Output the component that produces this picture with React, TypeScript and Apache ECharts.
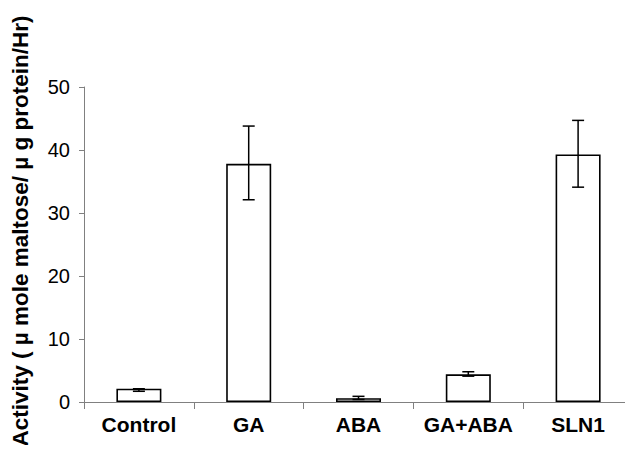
import React, { useEffect, useRef } from "react";
import * as echarts from "echarts";

const categories = ["Control", "GA", "ABA", "GA+ABA", "SLN1"];
const activity = [2.1, 37.8, 0.6, 4.4, 39.3];
const errLow = [1.7, 32.1, 0.4, 4.1, 34.1];
const errHigh = [2.1, 43.8, 0.9, 4.8, 44.7];
const yTicks = [0, 10, 20, 30, 40, 50];
const yTitle = "Activity ( \u00b5 mole maltose/ \u00b5 g protein/Hr)";

export default function App() {
  const ref = useRef<HTMLDivElement>(null);
  useEffect(() => {
    if (!ref.current) return;
    const chart = echarts.init(ref.current, undefined, { renderer: "svg" });
    const errData = categories.map((_, i) => [i, errLow[i], errHigh[i]]);
    chart.setOption({
      animation: false,
      backgroundColor: "#ffffff",
      grid: { left: 84, right: 0, top: 87, bottom: 51, containLabel: false },
      xAxis: {
        type: "category",
        data: categories,
        boundaryGap: true,
        axisLine: { lineStyle: { color: "#808080", width: 1 } },
        axisTick: { show: true, length: 7, interval: 0, alignWithLabel: false, lineStyle: { color: "#808080" } },
        axisLabel: {
          interval: 0,
          hideOverlap: false,
          color: "#000",
          fontFamily: "Liberation Sans, Arial, sans-serif",
          fontWeight: "bold",
          fontSize: 21,
          margin: 12,
        },
        splitLine: { show: false },
      },
      yAxis: {
        type: "value",
        min: yTicks[0],
        max: yTicks[yTicks.length - 1],
        interval: 10,
        axisLine: { show: true, lineStyle: { color: "#808080", width: 1 } },
        axisTick: { show: true, length: 5, lineStyle: { color: "#808080" } },
        axisLabel: {
          color: "#000",
          fontFamily: "Liberation Sans, Arial, sans-serif",
          fontSize: 20,
          margin: 14,
        },
        splitLine: { show: false },
      },
      graphic: [
        {
          type: "text",
          x: 20,
          y: 231,
          rotation: Math.PI / 2,
          style: {
            text: yTitle,
            fill: "#000",
            font: "bold 22.5px 'Liberation Sans', Arial, sans-serif",
            textAlign: "center",
            textVerticalAlign: "middle",
          },
        },
      ],
      series: [
        {
          type: "bar",
          data: activity,
          barWidth: "41%",
          itemStyle: { color: "#ffffff", borderColor: "#000000", borderWidth: 1.6 },
        },
        {
          type: "custom",
          data: errData,
          z: 10,
          renderItem: (params: any, api: any) => {
            const x = api.value(0);
            const lo = api.coord([x, api.value(1)]);
            const hi = api.coord([x, api.value(2)]);
            const cx = lo[0];
            const hw = 6;
            const style = { stroke: "#000", lineWidth: 1.5 };
            return {
              type: "group",
              children: [
                { type: "line", shape: { x1: cx, y1: lo[1], x2: cx, y2: hi[1] }, style },
                { type: "line", shape: { x1: cx - hw, y1: lo[1], x2: cx + hw, y2: lo[1] }, style },
                { type: "line", shape: { x1: cx - hw, y1: hi[1], x2: cx + hw, y2: hi[1] }, style },
              ],
            };
          },
        },
      ],
    });
    return () => chart.dispose();
  }, []);
  return <div ref={ref} style={{ width: 633, height: 453, margin: -8 }} />;
}
